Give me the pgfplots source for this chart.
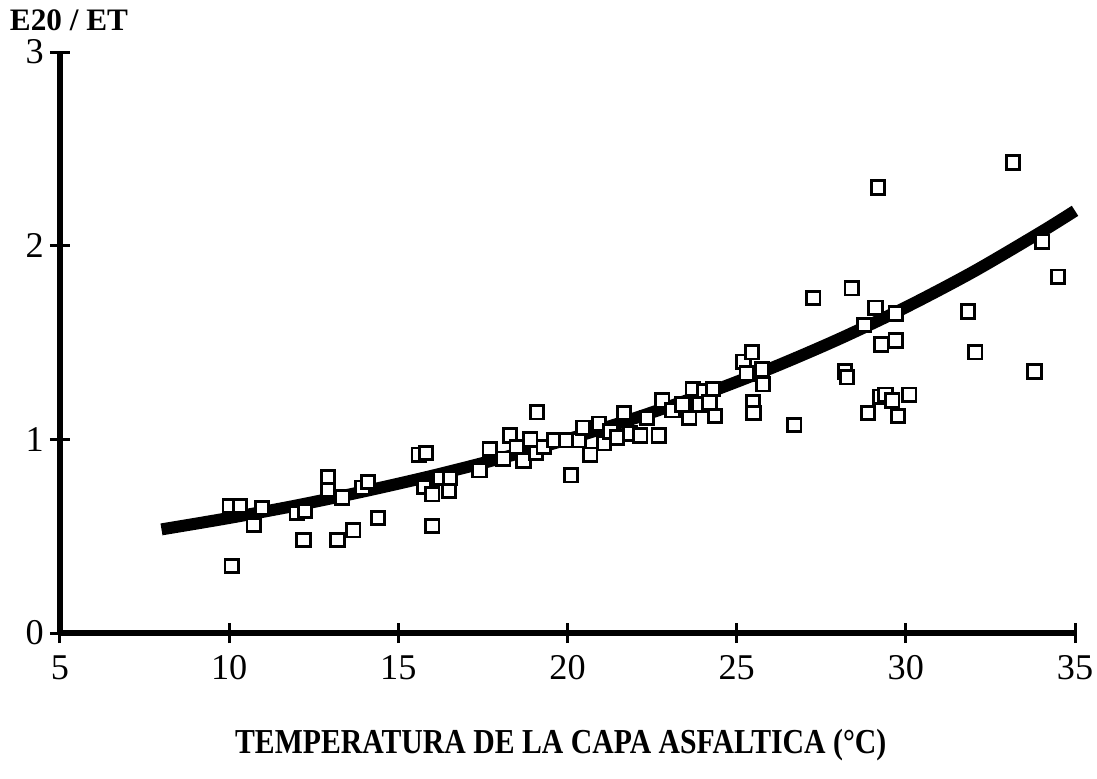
\documentclass[border=0pt]{standalone}
\usepackage{pgfplots}
\pgfplotsset{compat=1.18}
\usepackage{fontspec}
\setmainfont{Liberation Serif}
\begin{document}
\begin{tikzpicture}
\begin{axis}[
  scale only axis,
  width=406pt, height=232.4pt,
  xmin=5, xmax=35, ymin=0, ymax=3,
  axis lines=left,
  axis line style={line width=2.4pt, -},
  xtick={5,10,...,35}, ytick={0,1,2,3},
  tick align=center,
  major tick length=8pt,
  tick style={line width=1.2pt, black},
  /pgf/number format/assume math mode=true,
  ticklabel style={font=\fontsize{14.5}{16}\selectfont},
  xticklabel style={yshift=-1.5pt},
  yticklabel style={xshift=1pt},
  clip=false,
]
\addplot[line width=4.8pt, black, smooth] coordinates {
(8,0.535) (10,0.594) (12,0.659) (14,0.732) (16,0.812) (18,0.901) (20,1.0)
(22,1.11) (24,1.231) (26,1.366) (28,1.516) (30,1.682) (32,1.866) (34,2.071) (35,2.18)
};
\addplot[only marks, mark=square*, mark size=2.7pt, line width=1.1pt,
  mark options={draw=black, fill=white}] coordinates {
(10.02,0.656) (10.32,0.656) (10.08,0.346) (10.73,0.558) (10.97,0.645)
(12.0,0.62) (12.2,0.48) (12.24,0.63) (12.92,0.805) (12.92,0.738)
(13.2,0.48) (13.34,0.70) (13.67,0.53) (13.93,0.75) (14.1,0.78) (14.4,0.594)
(15.6,0.92) (15.82,0.93) (15.76,0.754) (16.0,0.717) (16.0,0.552) (16.23,0.80)
(16.5,0.733) (16.53,0.80) (17.4,0.84) (17.7,0.95) (18.1,0.90) (18.3,1.02)
(18.5,0.96) (18.7,0.89) (18.9,1.0) (19.07,0.93) (19.1,1.14) (19.3,0.96)
(19.6,0.995) (19.96,0.995) (20.1,0.815) (20.34,0.995) (20.46,1.06) (20.67,0.92)
(20.93,1.08) (21.08,0.98) (21.26,1.04) (21.46,1.01) (21.67,1.136) (21.85,1.03)
(22.15,1.02) (22.35,1.11) (22.7,1.02) (22.8,1.20) (23.1,1.15) (23.4,1.18)
(23.6,1.11) (23.7,1.26) (23.9,1.18) (24.05,1.25) (24.2,1.19) (24.3,1.26)
(24.36,1.12) (25.2,1.40) (25.3,1.34) (25.45,1.45) (25.48,1.19) (25.5,1.136)
(25.75,1.36) (25.78,1.285) (26.7,1.074) (27.26,1.73) (28.2,1.35) (28.26,1.32)
(28.4,1.78) (28.77,1.59) (28.88,1.136) (29.18,2.30) (29.1,1.68) (29.27,1.49)
(29.24,1.22) (29.4,1.23) (29.6,1.20) (29.7,1.65) (29.7,1.51) (29.77,1.12)
(30.1,1.23) (31.84,1.66) (32.05,1.45) (33.17,2.43) (33.8,1.35) (34.03,2.02)
(34.5,1.84)
};
\coordinate (O) at (axis cs:5,0);
\coordinate (T) at (axis cs:5,3);
\coordinate (M) at (axis cs:19.8,0);
\end{axis}
\node[font=\bfseries\fontsize{12.5}{14}\selectfont] at ([xshift=3.6pt,yshift=12.8pt]T) {E20 / ET};
\node[font=\bfseries\fontsize{14}{16}\selectfont] at ([yshift=-45pt]M) {\scalebox{0.85}[1]{TEMPERATURA DE LA CAPA ASFALTICA (°C)}};
\pgfresetboundingbox
\path (O) ++(-24pt,-58pt) rectangle ++(438.8pt,311.2pt);
\end{tikzpicture}
\end{document}
